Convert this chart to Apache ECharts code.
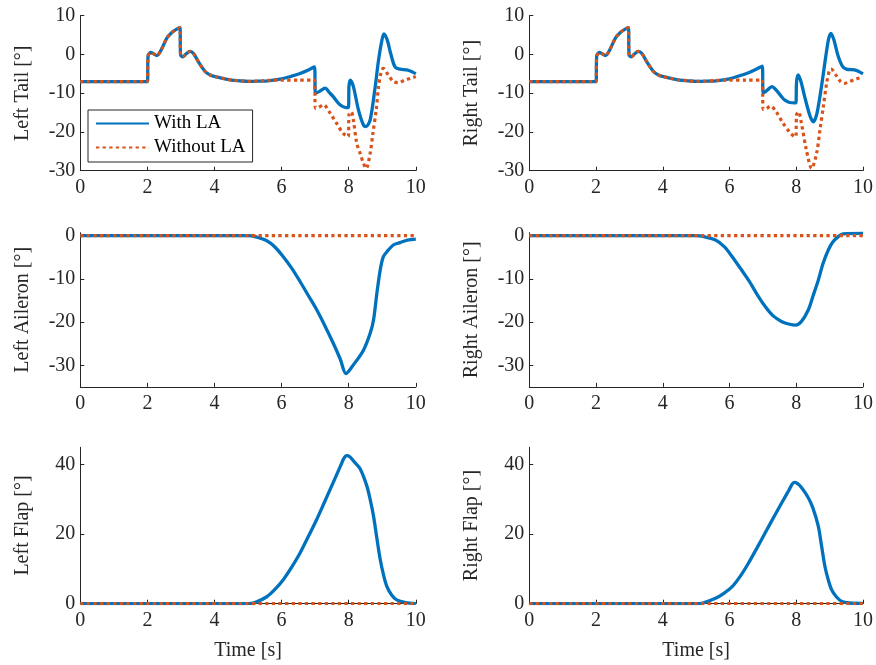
<!DOCTYPE html>
<html>
<head>
<meta charset="utf-8">
<script src="https://cdn.jsdelivr.net/npm/echarts@6/dist/echarts.min.js"></script>
<style>
  html, body { margin: 0; padding: 0; background: #fff; }
  #chart { width: 876px; height: 665px; }
</style>
</head>
<body>
<div id="chart"></div>
<script>
// Control-surface deflections over time, [time s, angle deg]
const xTicks = [0, 2, 4, 6, 8, 10];
const tailTicks = [-30, -20, -10, 0, 10];
const aileronTicks = [-30, -20, -10, 0];
const flapTicks = [0, 20, 40];

const tailCommon = [
  [0, -7], [1, -7], [1.9, -7], [2, -7], [2.02, -0.4], [2.1, 0.5], [2.18, 0.2], [2.28, -0.3],
  [2.4, 1.0], [2.58, 4.2], [2.72, 5.6], [2.85, 6.4], [2.97, 6.9], [2.99, -0.2], [3.06, -0.6],
  [3.15, 0.1], [3.27, 0.8], [3.38, 0.2], [3.52, -1.9], [3.72, -4.4], [3.87, -5.3], [4.05, -5.8],
  [4.26, -6.2], [4.5, -6.6], [4.76, -6.8], [5.0, -6.95], [5.3, -6.9]
];

const leftTailWith = tailCommon.concat([
  [5.6, -6.8], [6.0, -6.3], [6.3, -5.6], [6.55, -4.9], [6.8, -4.0], [6.98, -3.2], [7.01, -10.0],
  [7.12, -9.6], [7.3, -8.7], [7.42, -9.8], [7.54, -10.9], [7.74, -13.0], [7.92, -13.7], [7.99, -13.7],
  [8.01, -8.0], [8.05, -6.6], [8.14, -8.3], [8.29, -14.3], [8.44, -18.2], [8.52, -18.6], [8.64, -16.9],
  [8.79, -8.3], [8.89, -1.4], [8.99, 3.7], [9.05, 5.3], [9.15, 3.7], [9.25, 0.3], [9.38, -3.2],
  [9.53, -3.8], [9.73, -4.0], [9.87, -4.4], [10, -5.0]
]);

const leftTailWithout = tailCommon.concat([
  [5.6, -6.7], [6.0, -6.6], [6.5, -6.6], [6.98, -6.6], [7.01, -13.9], [7.1, -13.7], [7.25, -13.0],
  [7.45, -15.2], [7.64, -17.8], [7.84, -20.4], [7.99, -21.2], [8.01, -15.5], [8.08, -14.8],
  [8.14, -17.0], [8.24, -22.9], [8.34, -25.5], [8.44, -28.1], [8.52, -29.4], [8.64, -25.5],
  [8.72, -20.4], [8.82, -14.3], [8.89, -8.3], [8.96, -4.9], [9.03, -3.6], [9.18, -5.3],
  [9.33, -7.0], [9.48, -7.3], [9.68, -6.6], [9.83, -6.2], [10, -5.7]
]);

const rightTailWith = tailCommon.concat([
  [5.6, -6.8], [6.0, -6.3], [6.3, -5.5], [6.57, -4.7], [6.8, -3.8], [6.98, -3.0], [7.01, -10.0],
  [7.12, -9.3], [7.27, -8.3], [7.42, -9.4], [7.55, -10.8], [7.66, -11.8], [7.8, -12.4],
  [7.96, -12.5], [7.99, -12.5], [8.01, -7.0], [8.06, -5.3], [8.14, -7.0], [8.27, -11.5],
  [8.41, -15.8], [8.51, -17.4], [8.62, -15.2], [8.76, -8.0], [8.88, -0.8], [8.97, 4.0],
  [9.04, 5.45], [9.13, 3.7], [9.25, -0.3], [9.38, -3.0], [9.5, -3.8], [9.75, -4.0],
  [9.87, -4.4], [10, -5.0]
]);

const rightTailWithout = tailCommon.concat([
  [5.6, -6.7], [6.0, -6.6], [6.5, -6.6], [6.98, -6.6], [7.01, -14.2], [7.1, -14.0], [7.23, -13.3],
  [7.4, -14.8], [7.6, -17.7], [7.8, -20.0], [7.96, -21.2], [7.99, -21.2], [8.01, -15.5],
  [8.07, -14.8], [8.15, -17.5], [8.3, -24.5], [8.46, -29.4], [8.61, -25.5], [8.71, -19.5],
  [8.81, -13.5], [8.91, -7.45], [9.0, -4.0], [9.05, -3.8], [9.18, -5.2], [9.33, -7.0],
  [9.45, -7.45], [9.6, -7.0], [9.8, -6.3], [10, -5.9]
]);

const leftAileronWith = [
  [0, 0], [2, 0], [4, 0], [5, 0], [5.2, -0.2], [5.56, -1.15], [5.8, -2.6], [6.05, -4.85],
  [6.3, -7.5], [6.55, -10.6], [6.8, -13.9], [7.05, -17.2], [7.3, -21.0], [7.54, -24.9],
  [7.75, -28.6], [7.92, -31.9], [8.14, -29.9], [8.44, -26.5], [8.64, -22.6], [8.74, -19.5],
  [8.84, -13.3], [8.94, -7.9], [9.03, -4.9], [9.14, -3.7], [9.33, -2.15], [9.53, -1.6],
  [9.75, -1.0], [10, -0.77]
];
const leftAileronWithout = [[0, 0], [10, 0]];

const rightAileronWith = [
  [0, 0], [2, 0], [4, 0], [5, 0], [5.2, -0.15], [5.58, -1.0], [5.85, -2.6], [6.08, -4.85],
  [6.33, -7.6], [6.57, -10.3], [6.82, -13.5], [7.07, -16.4], [7.3, -18.5], [7.57, -19.9],
  [7.8, -20.5], [7.98, -20.7], [8.15, -19.9], [8.36, -17.2], [8.5, -14.0], [8.66, -10.3],
  [8.8, -6.5], [8.96, -3.3], [9.1, -1.4], [9.26, -0.2], [9.4, 0.45], [10, 0.55]
];
const rightAileronWithout = [[0, 0], [10, 0]];

const leftFlapWith = [
  [0, 0], [2, 0], [4, 0], [5, 0], [5.2, 0.3], [5.56, 2.0], [5.8, 4.1], [6.05, 6.9], [6.3, 10.5],
  [6.55, 14.6], [6.8, 19.4], [7.05, 24.3], [7.3, 29.7], [7.54, 34.9], [7.75, 39.5], [7.86, 41.9],
  [7.94, 42.6], [8.03, 42.3], [8.15, 41.0], [8.34, 38.8], [8.54, 33.9], [8.64, 30.0], [8.74, 25.2],
  [8.84, 18.8], [8.94, 12.7], [9.04, 8.2], [9.14, 4.9], [9.28, 2.5], [9.43, 1.1], [9.7, 0.3], [10, 0]
];
const leftFlapWithout = [[0, 0], [10, 0]];

const rightFlapWith = [
  [0, 0], [2, 0], [4, 0], [5, 0], [5.2, 0.2], [5.58, 1.55], [5.83, 3.0], [6.08, 4.9], [6.33, 8.0],
  [6.57, 11.7], [6.82, 16.0], [7.07, 20.4], [7.32, 24.8], [7.57, 29.1], [7.77, 32.5], [7.87, 34.3],
  [7.94, 34.9], [8.03, 34.6], [8.15, 33.5], [8.36, 30.5], [8.5, 27.5], [8.66, 22.3], [8.76, 16.5],
  [8.86, 10.7], [8.96, 6.8], [9.06, 4.0], [9.2, 2.0], [9.37, 0.6], [9.6, 0.2], [10, 0.1]
];
const rightFlapWithout = [[0, 0], [10, 0]];

const panelNames = ['Left Tail [°]', 'Right Tail [°]', 'Left Aileron [°]', 'Right Aileron [°]', 'Left Flap [°]', 'Right Flap [°]'];
const seriesNames = ['With LA', 'Without LA'];

const FONT = 'Liberation Serif';
const INK = '#262626';
const BLUE = '#0072BD';
const ORANGE = '#D95319';

const colLeft = [80.3, 529.3];
const colWidth = 335.5;
const rows = [
  { top: 15.7, height: 155, min: -30, max: 10, ticks: tailTicks },
  { top: 232.7, height: 154.2, min: -35, max: 0.7, ticks: aileronTicks },
  { top: 447.3, height: 156.4, min: 0, max: 45, ticks: flapTicks }
];
const panelData = [
  [leftTailWith, leftTailWithout], [rightTailWith, rightTailWithout],
  [leftAileronWith, leftAileronWithout], [rightAileronWith, rightAileronWithout],
  [leftFlapWith, leftFlapWithout], [rightFlapWith, rightFlapWithout]
];

const grid = [], xAxis = [], yAxis = [], series = [];
for (let i = 0; i < 6; i++) {
  const r = rows[Math.floor(i / 2)];
  const c = i % 2;
  grid.push({ left: colLeft[c], top: r.top, width: colWidth, height: r.height });
  xAxis.push({
    type: 'value', gridIndex: i, min: 0, max: 10, interval: 2,
    name: i >= 4 ? 'Time [s]' : '', nameLocation: 'middle', nameGap: 37,
    nameTextStyle: { fontFamily: FONT, fontSize: 20, color: INK },
    axisLine: { show: true, onZero: false, lineStyle: { color: INK, width: 1 } },
    axisTick: { show: true, inside: true, length: 4, lineStyle: { color: INK }, customValues: xTicks },
    axisLabel: { fontFamily: FONT, fontSize: 20, color: INK, margin: 7, customValues: xTicks },
    splitLine: { show: false }
  });
  yAxis.push({
    type: 'value', gridIndex: i, min: r.min, max: r.max,
    name: panelNames[i], nameLocation: 'middle', nameGap: 48,
    nameTextStyle: { fontFamily: FONT, fontSize: 20, color: INK },
    axisLine: { show: true, onZero: false, lineStyle: { color: INK, width: 1 } },
    axisTick: { show: true, inside: true, length: 4, lineStyle: { color: INK }, customValues: r.ticks },
    axisLabel: { fontFamily: FONT, fontSize: 20, color: INK, margin: 5, customValues: r.ticks },
    splitLine: { show: false }
  });
  const [withData, withoutData] = panelData[i];
  series.push({
    name: seriesNames[0], type: 'line', xAxisIndex: i, yAxisIndex: i, data: withData,
    showSymbol: false, symbol: 'none', smooth: 0.3, animation: false,
    lineStyle: { color: BLUE, width: 3.3 }, itemStyle: { color: BLUE }, z: 2
  });
  series.push({
    name: seriesNames[1], type: 'line', xAxisIndex: i, yAxisIndex: i, data: withoutData,
    showSymbol: false, symbol: 'none', smooth: 0.3, animation: false,
    lineStyle: { color: ORANGE, width: 3.2, type: [3.3, 3.3], cap: 'butt' }, itemStyle: { color: ORANGE }, z: 3
  });
}

const chart = echarts.init(document.getElementById('chart'), null, { renderer: 'canvas' });
chart.setOption({
  animation: false,
  backgroundColor: '#fff',
  grid, xAxis, yAxis, series,
  legend: {
    data: seriesNames, orient: 'vertical', left: 88, top: 110,
    itemWidth: 53, itemHeight: 14, itemGap: 5,
    padding: [4, 7, 5, 7],
    backgroundColor: '#fff', borderColor: INK, borderWidth: 1,
    itemStyle: { color: 'transparent', borderWidth: 0, opacity: 0 },
    textStyle: { fontFamily: FONT, fontSize: 19, color: '#000' },
    selectedMode: false
  }
});
</script>
</body>
</html>
